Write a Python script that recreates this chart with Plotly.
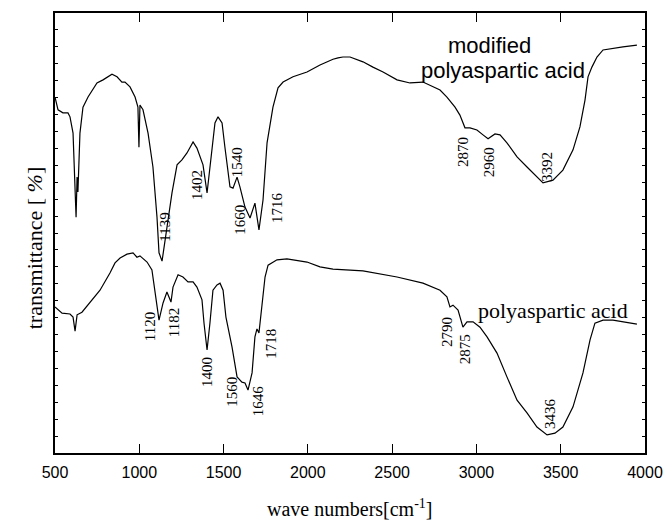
import plotly.graph_objects as go

# ---- data: modified polyaspartic acid (upper spectrum) ----
mod_wn = [500, 518, 547, 577, 589, 607, 625, 631, 636, 648, 666, 696, 749, 785, 838, 868, 897, 915,
          945, 975, 992, 998, 1004, 1022, 1052, 1081, 1105, 1117, 1135, 1164, 1194, 1224, 1253, 1283,
          1301, 1319, 1342, 1360, 1378, 1402, 1431, 1449, 1467, 1491, 1508, 1538, 1556, 1580, 1597,
          1627, 1657, 1686, 1710, 1734, 1758, 1775, 1793, 1823, 1853, 1912, 1995, 2072, 2149, 2179,
          2208, 2250, 2327, 2386, 2446, 2529, 2606, 2683, 2725, 2784, 2825, 2873, 2902, 2932, 2962,
          3003, 3039, 3069, 3110, 3140, 3181, 3241, 3300, 3359, 3395, 3454, 3513, 3573, 3614, 3644,
          3662, 3685, 3715, 3751, 3810, 3869, 3952]
mod_t = [80.9, 78.0, 77.3, 77.3, 76.4, 72.7, 53.6, 62.7, 59.3, 72.7, 78.6, 80.9, 84.1, 84.8, 86.1,
         85.5, 84.3, 84.3, 83.2, 80.9, 78.6, 69.5, 79.1, 78.0, 72.7, 65.0, 53.6, 45.5, 43.6, 51.4,
         59.1, 65.5, 66.6, 68.2, 69.3, 70.7, 69.3, 67.3, 65.5, 59.1, 69.5, 75.0, 76.4, 75.0, 69.5,
         60.5, 60.2, 62.7, 60.5, 55.9, 53.4, 56.8, 50.7, 57.5, 70.5, 75.0, 78.6, 83.0, 84.3, 85.5,
         86.6, 88.2, 89.5, 89.8, 90.0, 90.0, 88.9, 87.7, 86.6, 84.8, 84.1, 84.3, 83.6, 82.5, 80.9,
         78.6, 76.8, 73.9, 73.9, 73.4, 72.3, 71.4, 72.5, 72.3, 70.5, 67.3, 65.0, 62.7, 61.4, 62.0,
         64.3, 68.9, 74.1, 80.2, 85.5, 87.7, 90.0, 91.6, 92.0, 92.3, 92.7]

# ---- data: polyaspartic acid (lower spectrum) ----
pasp_wn = [500, 542, 589, 607, 619, 631, 660, 696, 767, 826, 856, 886, 927, 963, 986, 1004, 1046,
           1075, 1087, 1105, 1117, 1141, 1164, 1188, 1200, 1230, 1259, 1289, 1319, 1342, 1372, 1384,
           1402, 1419, 1437, 1461, 1479, 1497, 1514, 1550, 1568, 1580, 1609, 1627, 1645, 1669, 1686,
           1698, 1710, 1728, 1746, 1764, 1817, 1876, 1995, 2072, 2149, 2327, 2529, 2683, 2784, 2825,
           2843, 2861, 2891, 2920, 2944, 2980, 3021, 3063, 3122, 3181, 3241, 3300, 3359, 3419, 3466,
           3513, 3573, 3632, 3674, 3703, 3751, 3810, 3869, 3952]
pasp_t = [33.2, 31.8, 31.6, 30.9, 27.7, 31.4, 32.0, 33.6, 37.0, 40.9, 43.2, 44.3, 45.2, 45.5, 44.5,
          44.8, 43.4, 41.6, 38.6, 33.2, 30.2, 34.1, 36.6, 34.3, 37.7, 40.5, 40.0, 38.9, 38.9, 37.7,
          34.8, 29.5, 23.4, 29.5, 37.0, 38.2, 38.6, 37.0, 30.9, 24.1, 20.5, 17.3, 16.1, 15.9, 14.3,
          18.2, 26.4, 28.2, 27.3, 33.2, 40.0, 42.7, 43.9, 44.1, 43.4, 42.3, 41.8, 41.4, 40.0, 38.6,
          37.0, 35.5, 33.2, 33.6, 32.5, 28.6, 29.8, 29.8, 28.6, 26.4, 22.7, 17.3, 12.0, 9.1, 5.9,
          4.1, 4.5, 5.9, 10.5, 18.2, 25.7, 29.5, 30.2, 30.2, 29.8, 29.3]

# ---- peak labels ----
mod_peaks = ["1139", "1402", "1540", "1660", "1716", "2870", "2960", "3392"]
pasp_peaks = ["1120", "1182", "1400", "1560", "1646", "1718", "2790", "2875", "3436"]
x_ticks = [500, 1000, 1500, 2000, 2500, 3000, 3500, 4000]

# label placement (layout only)
mod_pos = [(1152, 51.4), (1342, 60.9), (1580, 66.1), (1597, 53.0), (1817, 55.7),
           (2920, 68.4), (3075, 66.1), (3419, 65.0)]
pasp_pos = [(1064, 28.6), (1206, 29.5), (1402, 18.4), (1550, 13.9), (1704, 12.0),
            (1781, 24.8), (2825, 27.5), (2932, 23.6), (3436, 9.1)]

fig = go.Figure()
line = dict(color="black", width=1.2)
fig.add_trace(go.Scatter(x=mod_wn, y=mod_t, mode="lines", line=line, showlegend=False,
                         hoverinfo="skip"))
fig.add_trace(go.Scatter(x=pasp_wn, y=pasp_t, mode="lines", line=line, showlegend=False,
                         hoverinfo="skip"))

serif = "Liberation Serif, Times New Roman, serif"
sans = "Liberation Sans, Arial, sans-serif"

annotations = []
for txt, (x, y) in zip(mod_peaks + pasp_peaks, mod_pos + pasp_pos):
    annotations.append(dict(x=x, y=y, xref="x", yref="y", text=txt, showarrow=False,
                            textangle=-90, font=dict(family=serif, size=15, color="black")))

annotations += [
    dict(x=3080, y=92.7, xref="x", yref="y", text="modified", showarrow=False,
         font=dict(family=sans, size=22, color="black")),
    dict(x=3158, y=87.0, xref="x", yref="y", text="polyaspartic acid", showarrow=False,
         font=dict(family=sans, size=22, color="black")),
    dict(x=3454, y=32.5, xref="x", yref="y", text="polyaspartic acid", showarrow=False,
         font=dict(family=serif, size=22, color="black")),
    dict(x=-0.058, y=0.466, xref="paper", yref="paper", text="transmittance [ <i>%</i>]",
         showarrow=False, textangle=-90, font=dict(family=serif, size=22, color="black")),
    dict(x=0.5, y=-0.125, xref="paper", yref="paper", yanchor="middle",
         text="wave numbers[cm<sup>-1</sup>]",
         showarrow=False, font=dict(family=serif, size=20, color="black")),
]

fig.update_layout(
    width=665, height=520,
    margin=dict(l=55, r=20, t=13, b=67),
    plot_bgcolor="white", paper_bgcolor="white",
    annotations=annotations,
    xaxis=dict(range=[500, 4000], tickvals=x_ticks, ticktext=[str(v) for v in x_ticks],
               ticks="inside", ticklen=9, tickwidth=1.2, tickcolor="black",
               showline=True, linecolor="black", linewidth=1.5, mirror="ticks",
               showgrid=False, zeroline=False, automargin=False, ticklabelstandoff=4,
               tickfont=dict(family=sans, size=16, color="black")),
    yaxis=dict(range=[0, 100], tick0=0, dtick=100 / 26, showticklabels=False,
               ticks="inside", ticklen=3, tickwidth=1, tickcolor="black",
               showline=True, linecolor="black", linewidth=1.5, mirror="ticks",
               showgrid=False, zeroline=False, automargin=False),
)

fig.write_html("out.html", config={"displayModeBar": False},
               post_script="document.body.style.margin='0';document.body.style.overflow='hidden';")
